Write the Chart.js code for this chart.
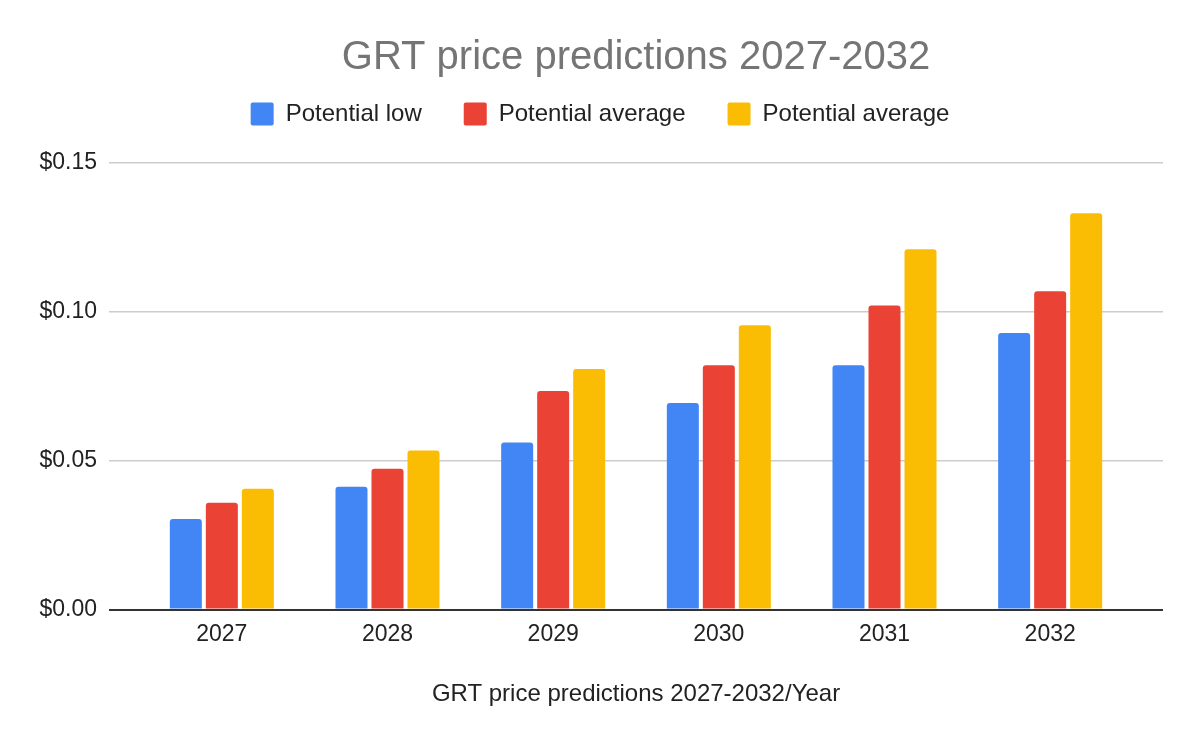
<!DOCTYPE html>
<html>
<head>
    <title>GRT price predictions 2027-2032</title>
    <script src="https://cdn.jsdelivr.net/npm/chart.js@4.4.0/dist/chart.umd.min.js"></script>
    <style>
        body {
            margin: 0;
            background: #ffffff;
        }
        .chart-box {
            width: 1200px;
            height: 742px;
        }
    </style>
</head>
<body>
    <div class="chart-box">
        <canvas id="grtChart"></canvas>
    </div>

    <script>
        const years = ['2027', '2028', '2029', '2030', '2031', '2032'];
        const potentialLow = [0.0304, 0.0413, 0.0561, 0.0694, 0.0821, 0.0929];
        const potentialAverage = [0.0359, 0.0473, 0.0734, 0.0821, 0.1021, 0.1069];
        const potentialAverage2 = [0.0406, 0.0534, 0.0808, 0.0955, 0.1210, 0.1331];
        const yTicks = [0, 0.05, 0.10, 0.15];

        const fontFamily = '"Liberation Sans", Arial, sans-serif';

        // google sheets leaves a gap between the gridline ends and the first/last category,
        // and keeps the legend closer to the title than chart.js does
        const sheetsLayout = {
            id: 'sheetsLayout',
            afterLayout(chart) {
                const x = chart.scales.x;
                x.left += 30;
                x.right -= 30;
                x.width = x.right - x.left;
                x.configure();

                chart.legend.top -= 27;
                chart.legend.bottom -= 27;
            }
        };

        function bar(label, data, color) {
            return {
                label: label,
                data: data,
                backgroundColor: color,
                borderRadius: { topLeft: 3, topRight: 3 },
                borderSkipped: 'bottom',
                categoryPercentage: 0.652,
                barPercentage: 0.889
            };
        }

        new Chart(document.getElementById('grtChart'), {
            type: 'bar',
            data: {
                labels: years,
                datasets: [
                    bar('Potential low', potentialLow, '#4285F4'),
                    bar('Potential average', potentialAverage, '#EA4335'),
                    bar('Potential average', potentialAverage2, '#FBBC04')
                ]
            },
            options: {
                responsive: true,
                maintainAspectRatio: false,
                animation: false,
                layout: {
                    padding: { top: 34, right: 0, bottom: 33, left: 0 }
                },
                plugins: {
                    title: {
                        display: true,
                        fullSize: false,
                        text: 'GRT price predictions 2027-2032',
                        color: '#757575',
                        font: { family: fontFamily, size: 40, weight: 'normal' },
                        padding: { top: 0, bottom: 5 }
                    },
                    legend: {
                        position: 'top',
                        labels: {
                            color: '#222222',
                            font: { family: fontFamily, size: 24 },
                            boxWidth: 23,
                            boxHeight: 23,
                            useBorderRadius: true,
                            borderRadius: 2,
                            padding: 42
                        }
                    },
                    tooltip: { enabled: false }
                },
                scales: {
                    x: {
                        grid: { display: false, drawTicks: false },
                        border: { display: false },
                        ticks: {
                            color: '#222222',
                            font: { family: fontFamily, size: 23 },
                            padding: 11
                        },
                        title: {
                            display: true,
                            text: 'GRT price predictions 2027-2032/Year',
                            color: '#222222',
                            font: { family: fontFamily, size: 24 },
                            padding: { top: 21, bottom: 0 }
                        }
                    },
                    y: {
                        min: 0,
                        max: 0.15,
                        afterFit(scale) {
                            scale.width = 109;
                        },
                        afterBuildTicks(scale) {
                            scale.ticks = yTicks.map(v => ({ value: v }));
                        },
                        grid: {
                            drawTicks: false,
                            color: ctx => ctx.tick && ctx.tick.value === 0 ? '#333333' : '#cccccc',
                            lineWidth: ctx => ctx.tick && ctx.tick.value === 0 ? 2 : 1.5
                        },
                        border: { display: false },
                        ticks: {
                            color: '#222222',
                            font: { family: fontFamily, size: 23 },
                            padding: 12,
                            callback: v => '$' + Number(v).toFixed(2)
                        }
                    },
                    // empty right axis, only keeps the plot clear of the right edge
                    yRight: {
                        position: 'right',
                        min: 0,
                        max: 0.15,
                        afterFit(scale) {
                            scale.width = 37;
                        },
                        grid: { display: false, drawTicks: false },
                        border: { display: false },
                        ticks: { display: false }
                    }
                }
            },
            plugins: [sheetsLayout]
        });
    </script>
</body>
</html>
